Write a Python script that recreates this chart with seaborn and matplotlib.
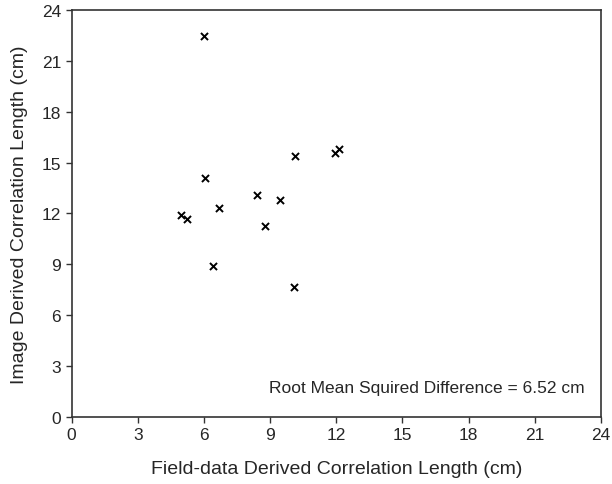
import matplotlib
matplotlib.use("Agg")
import matplotlib.pyplot as plt
import seaborn as sns
import pandas as pd

# field-data vs image derived correlation lengths (cm)
field_len = [5.99, 10.13, 11.93, 12.12, 6.07, 8.40, 9.47, 6.67, 4.94, 5.21, 8.77, 6.43, 10.06]
image_len = [22.45, 15.36, 15.59, 15.83, 14.06, 13.09, 12.78, 12.30, 11.91, 11.65, 11.26, 8.92, 7.64]
tick_vals = [0, 3, 6, 9, 12, 15, 18, 21, 24]
rmsd_text = "Root Mean Squired Difference = 6.52 cm"

sns.set_style("ticks")
plt.rcParams['font.family'] = ['Liberation Sans', 'DejaVu Sans']

df = pd.DataFrame({'field': field_len, 'image': image_len})

fig = plt.figure(figsize=(6.12, 4.85), dpi=100)
ax = fig.add_axes([0.117, 0.139, 0.865, 0.838])

sns.scatterplot(
    data=df,
    x='field',
    y='image',
    marker='x',
    color='black',
    s=26,
    linewidth=1.4,
    ax=ax
)

ax.set_xlim(0, 24)
ax.set_ylim(0, 24)
ax.set_xticks(tick_vals)
ax.set_yticks(tick_vals)
ax.tick_params(axis='both', labelsize=12.5, length=4, width=1, color='#333333', direction='out')
for sp in ax.spines.values():
    sp.set_visible(True)
    sp.set_linewidth(1.2)
    sp.set_color('#333333')

ax.set_xlabel('Field-data Derived Correlation Length (cm)', fontsize=14, labelpad=13)
ax.set_ylabel('Image Derived Correlation Length (cm)', fontsize=14, labelpad=10)

ax.text(23.26, 1.73, rmsd_text, fontsize=12.5, ha='right', va='center')

plt.savefig("out.png", dpi=100)
plt.close()
